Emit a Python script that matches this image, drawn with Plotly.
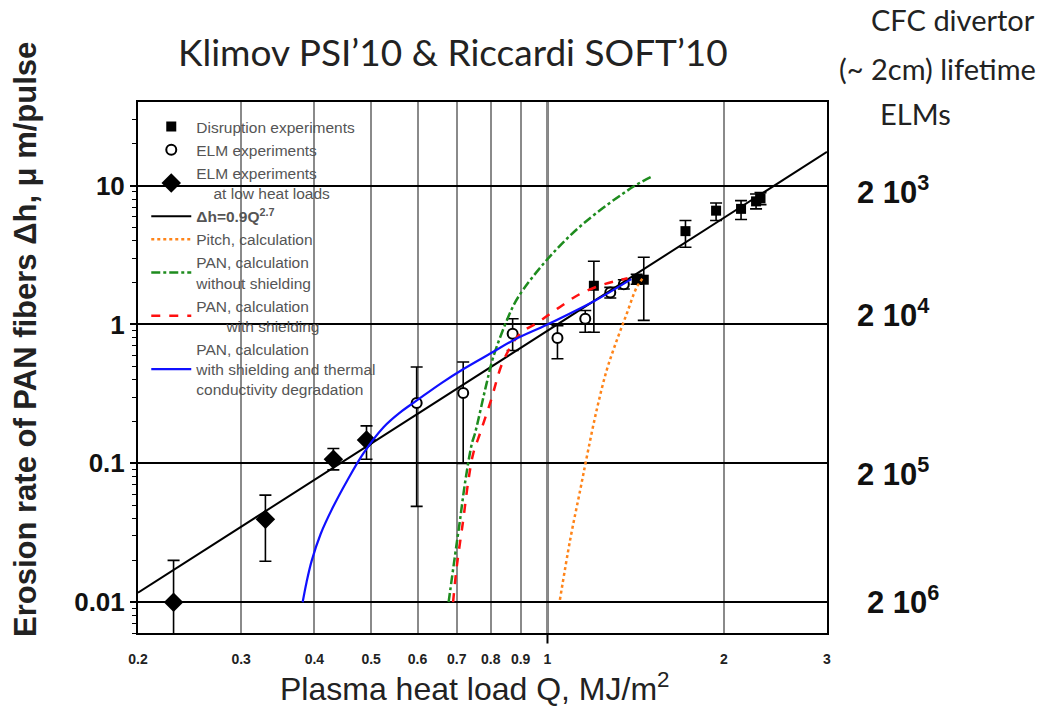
import plotly.graph_objects as go

# ---------------- data ----------------
disr_x = [1.20, 1.42, 1.46, 1.72, 1.94, 2.14, 2.27, 2.31]
disr_y = [1.9, 2.12, 2.10, 4.7, 6.6, 6.8, 7.7, 8.1]
disr_hi = [2.85, 2.30, 3.05, 5.6, 7.5, 7.8, 8.7, 8.9]
disr_lo = [0.88, 1.95, 1.07, 3.6, 5.6, 5.7, 6.8, 7.3]

elm_x = [0.598, 0.718, 0.872, 1.04, 1.16, 1.28, 1.35]
elm_y = [0.272, 0.321, 0.857, 0.80, 1.10, 1.70, 1.95]
elm_hi = [0.494, 0.537, 1.10, 0.98, 1.26, 1.85, 2.10]
elm_lo = [0.049, 0.100, 0.65, 0.567, 0.88, 1.55, 1.80]

low_x = [0.23, 0.33, 0.431, 0.491]
low_y = [0.010, 0.0396, 0.107, 0.147]
low_hi = [0.020, 0.059, 0.128, 0.186]
low_lo = [0.004, 0.0197, 0.0897, 0.107]

fit_x = [0.2, 3.0]
fit_y = [0.0117, 17.5]

pitch_x = [1.05, 1.093, 1.137, 1.167, 1.213, 1.262, 1.313, 1.365, 1.42, 1.46]
pitch_y = [0.0104, 0.028, 0.064, 0.111, 0.241, 0.468, 0.768, 1.19, 1.85, 2.2]

green_x = [0.678, 0.695, 0.709, 0.723, 0.743, 0.752, 0.787, 0.808, 0.857, 0.891, 0.997, 1.15, 1.40, 1.50]
green_y = [0.010, 0.0214, 0.039, 0.0718, 0.139, 0.164, 0.375, 0.582, 1.13, 1.57, 2.91, 5.3, 9.8, 11.5]

red_x = [0.690, 0.700, 0.718, 0.733, 0.747, 0.767, 0.80, 0.841, 0.898, 0.965, 1.04, 1.137, 1.25, 1.37]
red_y = [0.010, 0.018, 0.039, 0.076, 0.118, 0.164, 0.28, 0.55, 0.857, 1.04, 1.3, 1.66, 1.95, 2.15]

blue_x = [0.382, 0.388, 0.396, 0.41, 0.43, 0.455, 0.485, 0.525, 0.56, 0.60, 0.66, 0.72, 0.80, 0.88, 1.0, 1.2, 1.39]
blue_y = [0.010, 0.014, 0.020, 0.031, 0.048, 0.075, 0.118, 0.182, 0.232, 0.286, 0.38, 0.48, 0.62, 0.78, 1.0, 1.47, 2.12]

x_ticks = [0.2, 0.3, 0.4, 0.5, 0.6, 0.7, 0.8, 0.9, 1, 2, 3]
x_tick_text = ["0.2", "0.3", "0.4", "0.5", "0.6", "0.7", "0.8", "0.9", "1", "2", "3"]
y_ticks = [0.01, 0.1, 1, 10]
y_tick_text = ["0.01", "0.1", "1", "10"]
y_minor = [0.006, 0.007, 0.008, 0.009,
           0.02, 0.03, 0.04, 0.05, 0.06, 0.07, 0.08, 0.09,
           0.2, 0.3, 0.4, 0.5, 0.6, 0.7, 0.8, 0.9,
           2, 3, 4, 5, 6, 7, 8, 9, 20, 30]

lifetime_labels = ["2 10<sup>3</sup>", "2 10<sup>4</sup>", "2 10<sup>5</sup>", "2 10<sup>6</sup>"]
lifetime_px_y = [190, 313, 472, 600]
lifetime_px_x = [893, 893, 893, 903]


def err(y, hi, lo):
    return dict(type="data", symmetric=False,
                array=[h - v for h, v in zip(hi, y)],
                arrayminus=[v - l for v, l in zip(y, lo)],
                color="black", thickness=1.6, width=6)


fig = go.Figure()

fig.add_trace(go.Scatter(x=disr_x, y=disr_y, mode="markers", name="Disruption experiments",
                         marker=dict(symbol="square", size=10, color="black"),
                         error_y=err(disr_y, disr_hi, disr_lo)))
fig.add_trace(go.Scatter(x=elm_x, y=elm_y, mode="markers", name="ELM experiments",
                         marker=dict(symbol="circle", size=10, color="white",
                                     line=dict(color="black", width=2)),
                         error_y=err(elm_y, elm_hi, elm_lo)))
fig.add_trace(go.Scatter(x=low_x, y=low_y, mode="markers",
                         name="ELM experiments<br>&nbsp;&nbsp;&nbsp;&nbsp;at low heat loads",
                         marker=dict(symbol="diamond", size=15, color="black"),
                         error_y=err(low_y, low_hi, low_lo)))
fig.add_trace(go.Scatter(x=fit_x, y=fit_y, mode="lines",
                         name="<b>\u0394h=0.9Q<sup>2.7</sup></b>",
                         line=dict(color="black", width=2)))
fig.add_trace(go.Scatter(x=pitch_x, y=pitch_y, mode="lines", name="Pitch, calculation",
                         line=dict(color="#ff8419", width=2.5, dash="dot", shape="spline")))
fig.add_trace(go.Scatter(x=green_x, y=green_y, mode="lines",
                         name="PAN, calculation<br>without shielding",
                         line=dict(color="#1e8c1e", width=2.5, dash="dashdot", shape="spline")))
fig.add_trace(go.Scatter(x=red_x, y=red_y, mode="lines",
                         name="PAN, calculation<br>&nbsp;&nbsp;&nbsp;&nbsp;&nbsp;&nbsp;&nbsp;with shielding",
                         line=dict(color="#ff1010", width=2.5, dash="dash", shape="spline")))
fig.add_trace(go.Scatter(x=blue_x, y=blue_y, mode="lines",
                         name="PAN, calculation<br>with shielding and thermal<br>conductivity degradation",
                         line=dict(color="#1010ff", width=2.2, shape="spline")))

L, R, T, B = 138, 212, 102, 73
W, H = 1039, 706
pw, ph = W - L - R, H - T - B


def px(x):
    return (x - L) / pw


def py(y):
    return (H - B - y) / ph


fig.update_layout(
    width=W, height=H, autosize=False,
    margin=dict(l=L, r=R, t=T, b=B),
    paper_bgcolor="white", plot_bgcolor="white",
    font=dict(family="Liberation Sans, Arial, sans-serif", color="#222"),
    showlegend=True,
    legend=dict(x=0.012, y=0.985, xanchor="left", yanchor="top",
                bgcolor="rgba(0,0,0,0)", tracegroupgap=0,
                font=dict(size=15.5, color="#555"), itemwidth=40),
    xaxis=dict(type="log", range=[-0.69897, 0.4771213],
               tickvals=x_ticks, ticktext=x_tick_text,
               tickfont=dict(size=14, weight="bold", color="#222"),
               ticks="", ticklabelstandoff=12,
               showgrid=True, gridcolor="#8a8a8a", gridwidth=1.6,
               showline=True, linecolor="black", linewidth=2, mirror=True,
               zeroline=False),
    yaxis=dict(type="log", range=[-2.2218, 1.60206],
               tickvals=y_ticks, ticktext=y_tick_text,
               tickfont=dict(size=26, weight="bold", color="#111"),
               ticks="outside", ticklen=6, tickwidth=2, tickcolor="black",
               minor=dict(tickvals=y_minor, ticks="outside", ticklen=4,
                          tickwidth=1.3, tickcolor="black", showgrid=False),
               showgrid=True, gridcolor="black", gridwidth=1.8,
               showline=True, linecolor="black", linewidth=2, mirror=True,
               zeroline=False),
)

# darker reference line at Q = 1
fig.add_shape(type="line", xref="x", yref="paper", x0=1, x1=1, y0=-0.02, y1=1,
              line=dict(color="black", width=2), layer="below")

deco = "Lato, Open Sans, sans-serif"
annotations = [
    dict(text="Klimov PSI\u201910 &amp; Riccardi SOFT\u201910", x=px(453), y=py(52),
         font=dict(size=37, family=deco, color="#222")),
    dict(text="Erosion rate of PAN fibers \u0394h, \u03bc m/pulse", x=px(25), y=py(340),
         textangle=-90, font=dict(size=31, weight="bold", color="#222")),
    dict(text="Plasma heat load Q, MJ/m<sup>2</sup>", x=px(474), y=py(687),
         font=dict(size=32, color="#222")),
    dict(text="CFC divertor", x=px(953), y=py(20),
         font=dict(size=29, family=deco, color="#222")),
    dict(text="(~ 2cm) lifetime", x=px(937), y=py(68),
         font=dict(size=29, family=deco, color="#222")),
    dict(text="ELMs", x=px(915), y=py(113),
         font=dict(size=29, family=deco, color="#222")),
]
for lab, xx, yy in zip(lifetime_labels, lifetime_px_x, lifetime_px_y):
    annotations.append(dict(text=lab, x=px(xx), y=py(yy),
                            font=dict(size=31, weight="bold", color="#111")))
for a in annotations:
    a.update(xref="paper", yref="paper", showarrow=False, xanchor="center", yanchor="middle")
fig.update_layout(annotations=annotations)

fig.write_html("out.html")
